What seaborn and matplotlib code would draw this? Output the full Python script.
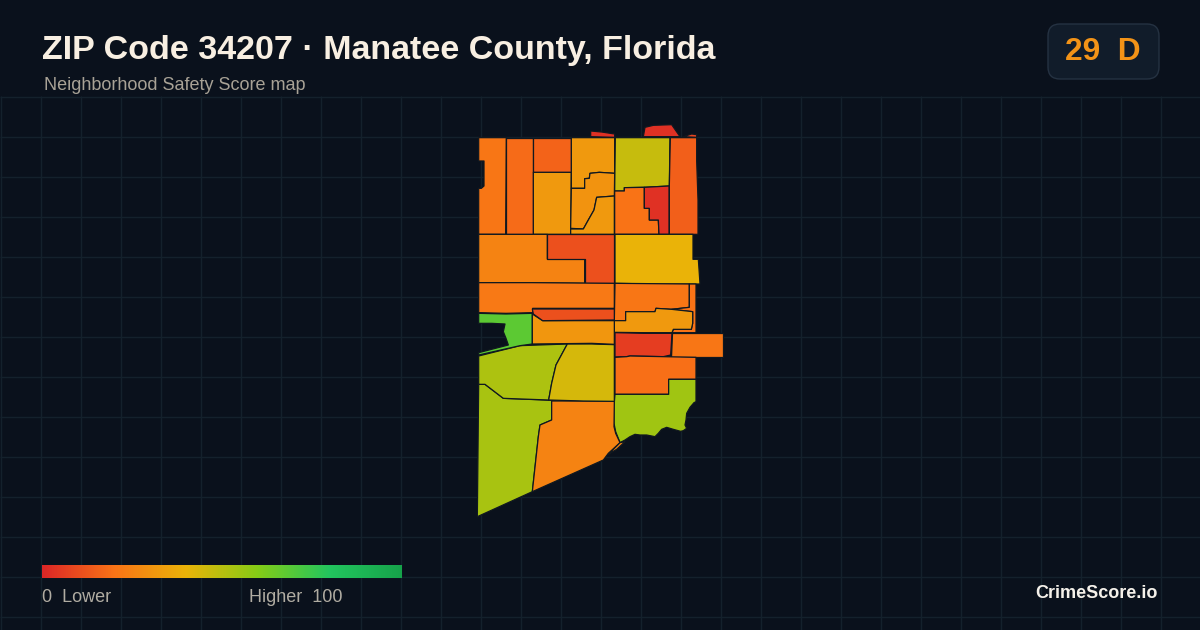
import numpy as np
import matplotlib
matplotlib.use("Agg")
import matplotlib.pyplot as plt
import seaborn as sns
from matplotlib.collections import PolyCollection
from matplotlib.patches import FancyBboxPatch

# ---------- data ----------
TITLE = "ZIP Code 34207 · Manatee County, Florida"
SUBTITLE = "Neighborhood Safety Score map"
BADGE = "29  D"
BRAND = "CrimeScore.io"
LEGEND_LEFT = "0  Lower"
LEGEND_RIGHT = "Higher  100"

ramp_stops = [0, 20, 40, 60, 80, 100]
ramp_colors = ["#dc2626", "#f97316", "#eab308", "#84cc16", "#22c55e", "#16a34a"]

# block-group scores (0-100)
scores = [21, 18, 16, 32, 32, 30, 32, 47, 15, 20, 3, 25, 11, 40, 22, 21, 20, 32,
          6, 21, 19, 54.5, 53, 25, 52, 44, 68, 31, 11, 3, 3, 8, 25]

# block-group outlines in map units
outlines = [
    [(26,53),(109,53),(107,343),(26,343),(26,205),(34,205),(42,198),(42,123),(26,123)],
    [(109,53),(190,53),(190,343),(107,343)],
    [(190,53),(304,53),(304,157),(190,157)],
    [(190,157),(304,157),(302,343),(190,343)],
    [(304,53),(434,53),(434,160),(388,157),(360,160),(358,175),(344,176),(344,205),(304,205)],
    [(304,205),(344,205),(344,176),(358,175),(360,160),(388,157),(434,160),(433,228),(380,232),(372,270),(355,300),(340,327),(302,325)],
    [(380,232),(433,228),(433,343),(302,343),(302,327),(340,327),(355,300),(372,270)],
    [(436,53),(600,53),(598,198),(520,202),(463,203),(463,213),(434,213)],
    [(601,53),(680,53),(680,123),(684,240),(684,343),(598,343),(598,198)],
    [(434,213),(463,213),(463,203),(523,202),(523,265),(538,265),(538,300),(565,300),(567,343),(434,343)],
    [(523,202),(597,198),(597,343),(567,343),(565,300),(538,300),(538,265),(523,265)],
    [(26,343),(232,343),(232,417),(344,417),(344,490),(186,488),(26,488)],
    [(232,343),(433,343),(433,490),(344,490),(344,417),(232,417)],
    [(435,343),(669,343),(669,418),(685,418),(690,492),(548,492),(435,490)],
    [(26,488),(186,488),(433,490),(433,565),(188,565),(188,578),(108,580),(26,578)],
    [(435,490),(658,492),(658,562),(605,568),(558,565),(555,575),(467,575),(467,602),(433,602)],
    [(658,492),(678,492),(678,638),(606,638),(610,628),(664,628),(668,610),(668,575),(605,568),(658,562)],
    [(467,575),(555,575),(558,565),(605,568),(668,575),(668,610),(664,628),(610,628),(606,638),(520,638),(433,637),(433,602),(467,602)],
    [(435,638),(520,640),(606,640),(602,705),(580,710),(480,708),(470,710),(435,711)],
    [(606,638),(760,638),(760,710),(604,710)],
    [(435,712),(470,710),(480,708),(580,710),(678,712),(678,778),(596,778),(596,823),(435,823)],
    [(435,823),(596,823),(596,778),(678,778),(678,845),(672,848),(660,862),(650,880),(648,900),(645,915),(650,925),(640,932),(632,934),(610,928),(590,922),(575,928),(565,940),(555,950),(530,945),(510,945),(495,943),(480,950),(465,960),(450,968),(437,935),(432,910),(432,860)],
    [(26,793),(45,793),(100,835),(200,839),(245,841),(245,900),(210,915),(205,950),(187,1115),(22,1190)],
    [(245,843),(340,843),(433,844),(432,920),(437,940),(450,968),(415,1000),(400,1020),(187,1115),(205,950),(210,915),(245,900)],
    [(26,708),(150,677),(292,672),(258,735),(245,790),(236,840),(100,835),(45,793),(26,793)],
    [(292,672),(365,672),(433,674),(433,844),(340,843),(236,840),(245,790),(258,735)],
    [(26,580),(108,582),(187,580),(187,672),(150,677),(26,705),(26,698),(115,675),(108,655),(100,635),(105,612),(65,610),(26,610)],
    [(187,582),(218,602),(433,602),(433,673),(365,670),(187,672)],
    [(187,567),(433,567),(433,600),(218,602),(190,582)],
    [(362,33),(395,36),(434,42),(434,52),(362,50)],
    [(520,50),(525,22),(550,16),(605,14),(630,50)],
    [(640,50),(665,42),(680,44),(680,52)],
    [(450,968),(465,965),(440,988),(415,1003)],
]

# ---------- style ----------
BG = "#0a111c"
GRID = "#14212c"
sns.set_theme(style="dark", rc={"figure.facecolor": BG, "axes.facecolor": BG, "savefig.facecolor": BG})
plt.rcParams["font.family"] = ["Liberation Sans", "DejaVu Sans"]

score_cmap = matplotlib.colors.LinearSegmentedColormap.from_list(
    "score", [(s / 100, c) for s, c in zip(ramp_stops, ramp_colors)], N=512)

fig = plt.figure(figsize=(12, 6.3), dpi=100)
page = fig.add_axes([0, 0, 1, 1])
page.set_xlim(0, 1200)
page.set_ylim(630, 0)
page.axis("off")

# page grid
page.vlines(np.arange(0.5, 1201, 40), 96, 630, color=GRID, lw=1, zorder=1)
page.hlines(np.arange(96.5, 630, 40), 0, 1200, color=GRID, lw=1, zorder=1)

# title block
page.text(42, 59.5, TITLE, color="#f8efe2", fontsize=24.5, fontweight="bold", va="baseline", ha="left", zorder=5)
page.text(44, 90.5, SUBTITLE, color="#a8a296", fontsize=13.0, va="baseline", ha="left", zorder=5)

# score badge
page.add_patch(FancyBboxPatch((1060, 36), 87, 31, boxstyle="round,pad=12,rounding_size=12",
                              fc="#111c2a", ec="#253242", lw=1, zorder=4))
page.text(1103, 51.5, BADGE, color="#f39317", fontsize=22.8, fontweight="bold", va="center", ha="center", zorder=5)

# footer
page.text(1158, 593.5, BRAND, color="#f5f1ea", fontsize=13, fontweight="bold", va="center", ha="right", zorder=5)
page.text(42, 597, LEGEND_LEFT, color="#b0aca2", fontsize=13, va="center", ha="left", zorder=5)
page.text(249, 597, LEGEND_RIGHT, color="#b0aca2", fontsize=13, va="center", ha="left", zorder=5)

# colour ramp
bar = fig.add_axes([42 / 1200, 1 - 578 / 630, 360 / 1200, 13 / 630])
sns.heatmap(np.linspace(0, 100, 360).reshape(1, -1), cmap=score_cmap, vmin=0, vmax=100,
            cbar=False, xticklabels=False, yticklabels=False, ax=bar)

# map
mp = fig.add_axes([470 / 1200, 1 - 525 / 630, 260 / 1200, 405 / 630])
mp.set_xlim(0, 780)
mp.set_ylim(1215, 0)
mp.axis("off")
mp.patch.set_alpha(0)
tracts = PolyCollection([np.array(o, dtype=float) for o in outlines], array=np.array(scores),
                        cmap=score_cmap, norm=matplotlib.colors.Normalize(0, 100),
                        edgecolors="#101820", linewidths=0.9)
mp.add_collection(tracts)

fig.savefig("out.png", dpi=100)
